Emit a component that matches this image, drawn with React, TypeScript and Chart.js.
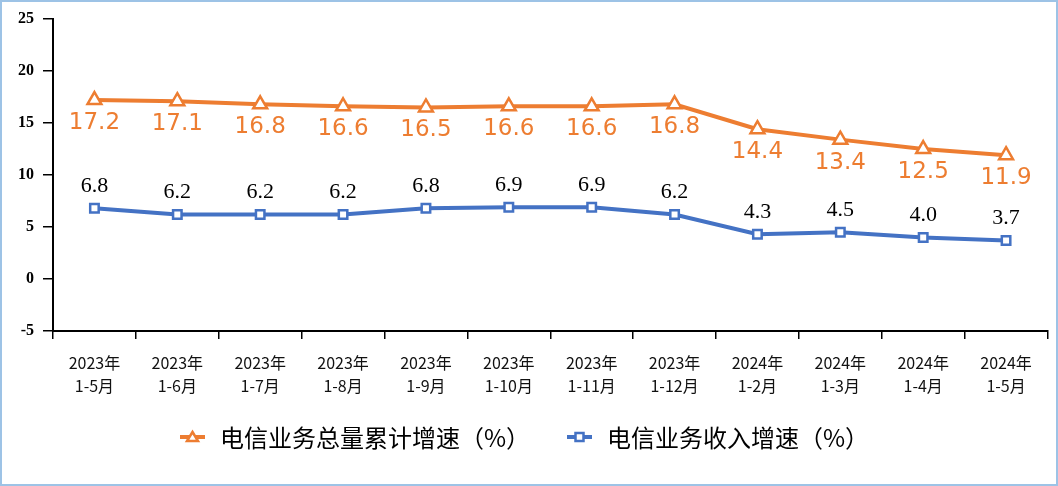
import React, { useEffect, useRef } from "react";
import { Chart, registerables } from "chart.js";

Chart.register(...registerables);

const categories: string[][] = [
  ["2023年", "1-5月"], ["2023年", "1-6月"], ["2023年", "1-7月"], ["2023年", "1-8月"],
  ["2023年", "1-9月"], ["2023年", "1-10月"], ["2023年", "1-11月"], ["2023年", "1-12月"],
  ["2024年", "1-2月"], ["2024年", "1-3月"], ["2024年", "1-4月"], ["2024年", "1-5月"],
];
const totalVolumeGrowth = [17.2, 17.1, 16.8, 16.6, 16.5, 16.6, 16.6, 16.8, 14.4, 13.4, 12.5, 11.9];
const revenueGrowth = [6.8, 6.2, 6.2, 6.2, 6.8, 6.9, 6.9, 6.2, 4.3, 4.5, 4.0, 3.7];
const seriesNames = ["电信业务总量累计增速（%）", "电信业务收入增速（%）"];
const yTicks = { min: -5, max: 25, step: 5 };

const ORANGE = "#ED7D31";
const BLUE = "#4472C4";

const decorPlugin = {
  id: "decor",
  beforeDraw(chart: any) {
    const { ctx, width, height } = chart;
    ctx.save();
    ctx.fillStyle = "#fff";
    ctx.fillRect(0, 0, width, height);
    ctx.restore();
  },
  afterDraw(chart: any) {
    const { ctx, width, height } = chart;
    ctx.save();
    // data labels
    chart.data.datasets.forEach((ds: any, di: number) => {
      const meta = chart.getDatasetMeta(di);
      meta.data.forEach((pt: any, i: number) => {
        const v = ds.data[i] as number;
        const txt = v.toFixed(1);
        ctx.textAlign = "center";
        ctx.textBaseline = "middle";
        if (di === 0) {
          ctx.font = "23px 'DejaVu Sans'";
          ctx.fillStyle = ORANGE;
          ctx.fillText(txt, pt.x, pt.y + 23);
        } else {
          ctx.font = "22px 'Liberation Serif'";
          ctx.fillStyle = "#000";
          ctx.fillText(txt, pt.x, pt.y - 22);
        }
      });
    });
    // legend
    const ly = 437;
    const items = [
      { x: 180, color: ORANGE, style: "triangle", text: seriesNames[0], tx: 220 },
      { x: 567, color: BLUE, style: "rect", text: seriesNames[1], tx: 607 },
    ];
    items.forEach((it) => {
      ctx.strokeStyle = it.color;
      ctx.lineWidth = 4;
      ctx.beginPath();
      ctx.moveTo(it.x, ly);
      ctx.lineTo(it.x + 25, ly);
      ctx.stroke();
      const cx = it.x + 12.5;
      ctx.fillStyle = "#fff";
      ctx.lineWidth = 2.5;
      ctx.beginPath();
      if (it.style === "triangle") {
        ctx.moveTo(cx, ly - 5);
        ctx.lineTo(cx + 5.5, ly + 4);
        ctx.lineTo(cx - 5.5, ly + 4);
        ctx.closePath();
      } else {
        ctx.rect(cx - 4, ly - 4, 8, 8);
      }
      ctx.fill();
      ctx.stroke();
      ctx.fillStyle = "#000";
      ctx.font = "24px 'Noto Sans CJK SC'";
      ctx.textAlign = "left";
      ctx.textBaseline = "middle";
      ctx.fillText(it.text, it.tx, ly + 1);
    });
    // border
    ctx.strokeStyle = "#9DC3E6";
    ctx.lineWidth = 2;
    ctx.strokeRect(1, 1, width - 2, height - 2);
    ctx.restore();
  },
};

export default function App() {
  const ref = useRef<HTMLCanvasElement | null>(null);
  useEffect(() => {
    document.body.style.margin = "0";
    const chart = new Chart(ref.current as HTMLCanvasElement, {
      type: "line",
      data: {
        labels: categories,
        datasets: [
          {
            label: seriesNames[0],
            data: totalVolumeGrowth,
            borderColor: ORANGE,
            backgroundColor: "#fff",
            borderWidth: 4,
            pointStyle: "triangle",
            pointRadius: 8,
            pointBorderWidth: 2.5,
            pointBackgroundColor: "#fff",
            pointBorderColor: ORANGE,
          },
          {
            label: seriesNames[1],
            data: revenueGrowth,
            borderColor: BLUE,
            backgroundColor: "#fff",
            borderWidth: 4,
            pointStyle: "rect",
            pointRadius: 6,
            pointBorderWidth: 2.5,
            pointBackgroundColor: "#fff",
            pointBorderColor: BLUE,
          },
        ],
      },
      options: {
        animation: false,
        responsive: false,
        layout: { padding: { left: 8, right: 10, top: 19, bottom: 90 } },
        plugins: { legend: { display: false }, tooltip: { enabled: false } },
        scales: {
          x: {
            offset: true,
            grid: { offset: true, drawOnChartArea: false, drawTicks: true, tickLength: 8, color: "#000", lineWidth: 1.5 },
            border: { display: true, color: "#000", width: 2 },
            ticks: {
              color: "#111",
              font: { family: "'Noto Sans CJK SC'", size: 16, lineHeight: 1.4 },
              padding: 13,
              maxRotation: 0,
              autoSkip: false,
            },
            afterFit: (s: any) => { s.height = 65; },
          },
          y: {
            min: yTicks.min,
            max: yTicks.max,
            ticks: {
              stepSize: yTicks.step,
              color: "#000",
              font: { family: "'Liberation Serif'", size: 16, weight: "bold" },
              padding: 9,
            },
            grid: { drawOnChartArea: false, drawTicks: true, tickLength: 10, color: "#000", lineWidth: 1.5 },
            border: { display: true, color: "#000", width: 2 },
            afterFit: (s: any) => { s.width = 45; },
          },
        },
      },
      plugins: [decorPlugin],
    } as any);
    return () => chart.destroy();
  }, []);
  return <canvas ref={ref} width={1058} height={486} style={{ display: "block" }} />;
}
